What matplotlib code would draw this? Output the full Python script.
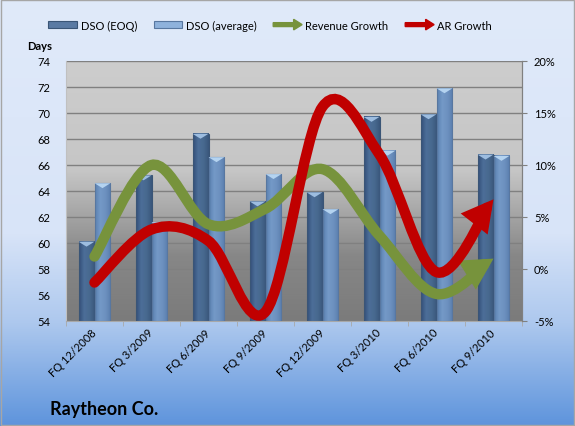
import numpy as np
import matplotlib
matplotlib.use("Agg")
import matplotlib.pyplot as plt
import matplotlib.patches as mpatches
from matplotlib.path import Path
from matplotlib.colors import LinearSegmentedColormap
from matplotlib.legend_handler import HandlerPatch
from matplotlib.ticker import FuncFormatter, MultipleLocator
import matplotlib.transforms as mtransforms

plt.rcParams['font.family'] = ['Lato', 'DejaVu Sans']

# data
quarters = ["FQ 12/2008", "FQ 3/2009", "FQ 6/2009", "FQ 9/2009",
            "FQ 12/2009", "FQ 3/2010", "FQ 6/2010", "FQ 9/2010"]
dso_eoq = [60.1, 65.2, 68.4, 63.2, 63.9, 69.7, 69.9, 66.8]
dso_avg = [64.6, 61.6, 66.6, 65.3, 62.6, 67.1, 71.9, 66.7]
revenue_growth = [1.2, 10.0, 4.3, 5.8, 9.6, 3.2, -2.4, 1.0]
ar_growth = [-1.3, 3.8, 2.7, -4.1, 15.6, 11.0, -0.3, 6.7]

green = "#77933c"
red = "#c00000"

fig = plt.figure(figsize=(5.75, 4.27), dpi=100)

# figure background gradient (light at top, blue at bottom)
bg = fig.add_axes([0, 0, 1, 1], zorder=-10)
bg_cmap = LinearSegmentedColormap.from_list(
    "bg", [(0, "#e0eafa"), (0.55, "#d8e4f8"), (0.76, "#adc8ee"), (1, "#5e94dc")])
bg.imshow(np.linspace(0, 1, 256).reshape(-1, 1), cmap=bg_cmap, aspect="auto",
          extent=[0, 1, 0, 1], origin="upper", transform=bg.transAxes)
bg.set_axis_off()
bg.add_patch(mpatches.Rectangle((0.001, 0.002), 0.997, 0.996, transform=bg.transAxes,
                                fill=False, edgecolor="#a6a6a6", lw=1))

ax = fig.add_axes([66 / 575, 1 - 322 / 427, 456 / 575, 260 / 427])
ax.set_facecolor("none")

# plot area gradient
pa_cmap = LinearSegmentedColormap.from_list(
    "pa", [(0, "#7b7b7b"), (0.25, "#878787"), (0.45, "#adadad"), (0.58, "#c6c6c6"), (1, "#cdcdcd")])
ax.imshow(np.linspace(0, 1, 256).reshape(-1, 1), cmap=pa_cmap, aspect="auto",
          extent=[0, 1, 0, 1], origin="lower", transform=ax.transAxes, zorder=0)

x = np.arange(len(quarters))
w = 0.28

ax.yaxis.set_major_locator(MultipleLocator(2))
ax.grid(axis="y", color="#808080", lw=1, zorder=1)
ax.set_axisbelow(True)

eoq_cmap = LinearSegmentedColormap.from_list("eoq", ["#34507a", "#4c6e98", "#48698f", "#3a577c"])
avg_cmap = LinearSegmentedColormap.from_list("avg", ["#5b81b1", "#7499c7", "#6d91bf", "#5a7eae"])
grad = np.linspace(0, 1, 64).reshape(1, -1)
cap_h = 0.38

for vals, off, cmap, edge, capc in [(dso_eoq, -w / 2, eoq_cmap, "#3a5576", "#9dbde0"),
                                    (dso_avg, w / 2, avg_cmap, "#5877a0", "#b4d3f0")]:
    bars = ax.bar(x + off, np.array(vals) - 54, bottom=54, width=w,
                  color="none", edgecolor=edge, lw=0.8, zorder=3)
    for b, v in zip(bars, vals):
        x0 = b.get_x()
        x1 = x0 + b.get_width()
        ax.imshow(grad, cmap=cmap, aspect="auto", extent=[x0, x1, 54, v], zorder=2)
        ax.fill([x0, x1, (x0 + x1) / 2], [v, v, v - cap_h], color=capc, lw=0, zorder=3)
ax.set_xlim(-0.5, len(quarters) - 0.5)
ax.set_ylim(54, 74)

# axes styling
ax.spines["top"].set_visible(False)
ax.spines["left"].set_color("#c0c0c0")
ax.spines["right"].set_color("#808080")
ax.spines["bottom"].set_color("#a8a8a8")
ax.tick_params(axis="y", length=0, pad=11.5, labelsize=8, colors="black")
ax.set_xticks(x)
ax.set_xticks(np.arange(len(quarters) + 1) - 0.5, minor=True)
ax.tick_params(axis="x", which="major", length=0, pad=4)
ax.tick_params(axis="x", which="minor", length=3.6, color="#a8a8a8", direction="out")
ax.set_xticklabels(quarters, rotation=45, ha="right", va="top", rotation_mode="anchor", fontsize=8)
shift = mtransforms.ScaledTranslation(-4 / 100, 0, fig.dpi_scale_trans)
for lab in ax.get_xticklabels():
    lab.set_transform(lab.get_transform() + shift)

ax2 = ax.twinx()
ax2.set_ylim(-5, 20)
ax2.yaxis.set_major_locator(MultipleLocator(5))
ax2.yaxis.set_major_formatter(FuncFormatter(lambda v, p: f"{v:.0f}%"))
ax2.tick_params(axis="y", length=3.6, color="#808080", pad=5, labelsize=8)
for s in ["top", "left", "bottom"]:
    ax2.spines[s].set_visible(False)
ax2.spines["right"].set_color("#808080")


def smooth_path(xs, ys):
    pts = np.column_stack([xs, ys]).astype(float)
    n = len(pts)
    verts = [pts[0]]
    codes = [Path.MOVETO]
    for i in range(n - 1):
        p0 = pts[i - 1] if i > 0 else pts[i]
        p1 = pts[i]
        p2 = pts[i + 1]
        p3 = pts[i + 2] if i + 2 < n else pts[i + 1]
        verts += [p1 + (p2 - p0) / 6, p2 - (p3 - p1) / 6, p2]
        codes += [Path.CURVE4] * 3
    return Path(verts, codes)


for vals, col in [(revenue_growth, green), (ar_growth, red)]:
    arrow = mpatches.FancyArrowPatch(
        path=smooth_path(x, vals), transform=ax2.transData,
        arrowstyle="-|>,head_length=1.1,head_width=0.6", mutation_scale=10,
        color=col, lw=7.5, capstyle="round", joinstyle="miter", zorder=5)
    ax2.add_patch(arrow)


# legend
def make_arrow(legend, orig_handle, xdescent, ydescent, width, height, fontsize):
    return mpatches.FancyArrow(-xdescent, -ydescent + height / 2, width, 0,
                               width=height * 0.55, head_width=height * 1.5,
                               head_length=height * 1.2, length_includes_head=True)


handles = [mpatches.Patch(facecolor="#5a7aa3", edgecolor="#3a5576", lw=0.8),
           mpatches.Patch(facecolor="#8fb2dc", edgecolor="#5877a0", lw=0.8),
           mpatches.Patch(color=green),
           mpatches.Patch(color=red)]
labels = ["DSO (EOQ)", "DSO (average)", "Revenue Growth", "AR Growth"]
fig.legend(handles, labels, loc="center", bbox_to_anchor=(0.47, 1 - 26 / 427), ncol=4,
           frameon=False, fontsize=8, handlelength=2.6, handleheight=0.6,
           handletextpad=0.3, columnspacing=1.5,
           handler_map={handles[2]: HandlerPatch(patch_func=make_arrow),
                        handles[3]: HandlerPatch(patch_func=make_arrow)})

fig.text(27 / 575, 1 - 47 / 427, "Days", fontsize=8, fontweight="bold", va="center", ha="left")
fig.text(50 / 575, 1 - 410 / 427, "Raytheon Co.", fontsize=13, fontweight="bold", va="center", ha="left")

fig.savefig("out.png", dpi=100)
